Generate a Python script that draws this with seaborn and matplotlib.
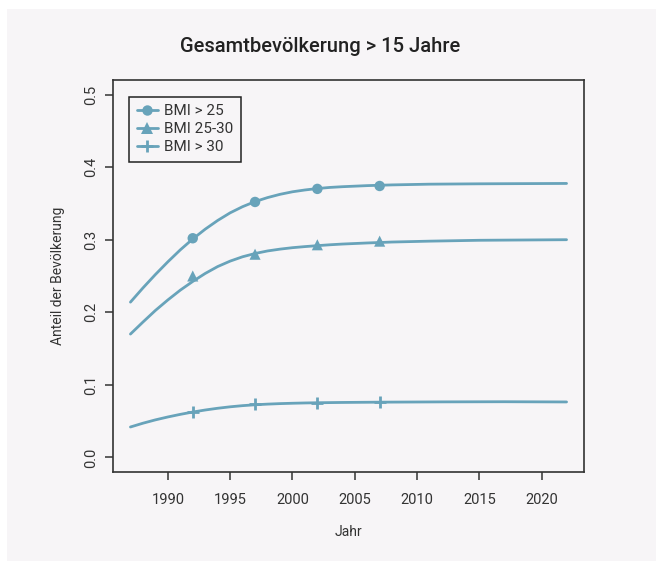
import matplotlib
matplotlib.use("Agg")
import matplotlib.pyplot as plt
from matplotlib.patches import Rectangle
from matplotlib.lines import Line2D
import seaborn as sns
import pandas as pd

# ---- data ----
series_names = ["BMI > 25", "BMI 25-30", "BMI > 30"]

curve_years_25 = [1987, 1988, 1989, 1990, 1991, 1992, 1993, 1994, 1995, 1996, 1997,
                  1998, 1999, 2000, 2001, 2002, 2003, 2004, 2006, 2008, 2011, 2015, 2022]
curve_bmi25 = [0.214, 0.2335, 0.252, 0.2695, 0.286, 0.301, 0.3145, 0.3265, 0.337, 0.3455,
               0.3525, 0.358, 0.3625, 0.366, 0.3685, 0.3705, 0.372, 0.373, 0.3745, 0.3755,
               0.3765, 0.377, 0.3775]

curve_years_2530 = [1987, 1988, 1989, 1990, 1991, 1992, 1993, 1994, 1995, 1996, 1997,
                    1998, 1999, 2000, 2001, 2002, 2003, 2004, 2006, 2008, 2011, 2015, 2022]
curve_bmi2530 = [0.170, 0.1865, 0.2025, 0.217, 0.2305, 0.2425, 0.2535, 0.263, 0.2705, 0.2765,
                 0.281, 0.2845, 0.287, 0.289, 0.2905, 0.2918, 0.293, 0.294, 0.2955, 0.2968,
                 0.298, 0.2992, 0.300]

curve_years_30 = [1987, 1988, 1989, 1990, 1991, 1992, 1993, 1994, 1995, 1996, 1997,
                  1998, 1999, 2000, 2001, 2002, 2004, 2007, 2012, 2017, 2022]
curve_bmi30 = [0.042, 0.0472, 0.0518, 0.0558, 0.0594, 0.0626, 0.0654, 0.0678, 0.0698, 0.0714,
               0.0726, 0.0735, 0.0742, 0.0747, 0.0751, 0.0754, 0.0758, 0.0762, 0.0766, 0.0768,
               0.0765]

obs_years = [1992, 1997, 2002, 2007]
obs_bmi25 = [0.302, 0.352, 0.370, 0.374]
obs_bmi2530 = [0.250, 0.280, 0.293, 0.298]
obs_bmi30 = [0.063, 0.073, 0.075, 0.077]

x_ticks = [1990, 1995, 2000, 2005, 2010, 2015, 2020]
y_ticks = [0.0, 0.1, 0.2, 0.3, 0.4, 0.5]

title = "Gesamtbevölkerung > 15 Jahre"
x_label = "Jahr"
y_label = "Anteil der Bevölkerung"

# ---- style ----
sns.set_theme(style="ticks")
plt.rcParams["font.family"] = ["Roboto", "DejaVu Sans"]

line_color = "#68a3ba"
text_color = "#333333"
panel_color = "#f7f5f7"

fig = plt.figure(figsize=(6.61, 5.63), dpi=100, facecolor="white")
fig.patches.append(Rectangle((7 / 661, 2 / 563), (656 - 7) / 661, (554 - 2) / 563,
                             transform=fig.transFigure, facecolor=panel_color,
                             edgecolor="none", zorder=-10))

ax = fig.add_axes([113 / 661, 1 - 472 / 563, (584 - 113) / 661, (472 - 80) / 563])
ax.set_facecolor(panel_color)

curves = [
    (curve_years_25, curve_bmi25, obs_bmi25, "o", 7.5, 0),
    (curve_years_2530, curve_bmi2530, obs_bmi2530, "^", 8, 0),
    (curve_years_30, curve_bmi30, obs_bmi30, "+", 9, 2.0),
]
handles = []
for name, (cx, cy, oy, mk, ms, mew) in zip(series_names, curves):
    df_c = pd.DataFrame({"Jahr": cx, "Anteil": cy})
    sns.lineplot(data=df_c, x="Jahr", y="Anteil", ax=ax, color=line_color,
                 linewidth=2.0, sort=True, estimator=None)
    df_o = pd.DataFrame({"Jahr": obs_years, "Anteil": oy})
    if mk == "+":
        ax.plot(df_o["Jahr"], df_o["Anteil"], linestyle="none", marker=mk,
                markersize=ms, markeredgewidth=mew, color=line_color, zorder=3)
    else:
        sns.scatterplot(data=df_o, x="Jahr", y="Anteil", ax=ax, marker=mk,
                        s=ms ** 2, color=line_color, edgecolor="none", zorder=3)
    handles.append(Line2D([0], [0], color=line_color, linewidth=2.0, marker=mk,
                          markersize=ms if mk != "+" else 9,
                          markeredgewidth=mew if mk == "+" else 0,
                          markerfacecolor=line_color, markeredgecolor=line_color,
                          label=name))

ax.set_xlim(1985.6, 2023.4)
ax.set_ylim(-0.02, 0.52)
ax.set_xticks(x_ticks)
ax.set_yticks(y_ticks)
ax.set_xticklabels([str(v) for v in x_ticks])
ax.set_yticklabels([f"{v:.1f}" for v in y_ticks], rotation=90, va="center")

for s in ax.spines.values():
    s.set_visible(True)
    s.set_color("#333333")
    s.set_linewidth(1.2)

ax.tick_params(axis="both", direction="out", length=5.5, width=1.1, color="#333333",
               labelcolor=text_color, labelsize=10.5)
ax.tick_params(axis="x", pad=9.5)
ax.tick_params(axis="y", pad=5)

ax.set_xlabel(x_label, fontsize=10, color=text_color, labelpad=13)
ax.set_ylabel(y_label, fontsize=10, color=text_color, labelpad=14)

fig.text(320 / 661, 1 - 47 / 563, title, ha="center", va="center", fontsize=14.5,
         fontweight="medium", color="#222222")

leg = ax.legend(handles=handles, loc="upper left", bbox_to_anchor=(0.034, 0.957),
                frameon=True, fancybox=False, fontsize=11, handlelength=1.4,
                handletextpad=0.4, borderpad=0.5, labelspacing=0.25,
                borderaxespad=0, labelcolor=text_color)
leg.get_frame().set_edgecolor("#222222")
leg.get_frame().set_linewidth(1.1)
leg.get_frame().set_facecolor(panel_color)
leg.get_frame().set_alpha(1)

fig.savefig("out.png", dpi=100, facecolor="white")
